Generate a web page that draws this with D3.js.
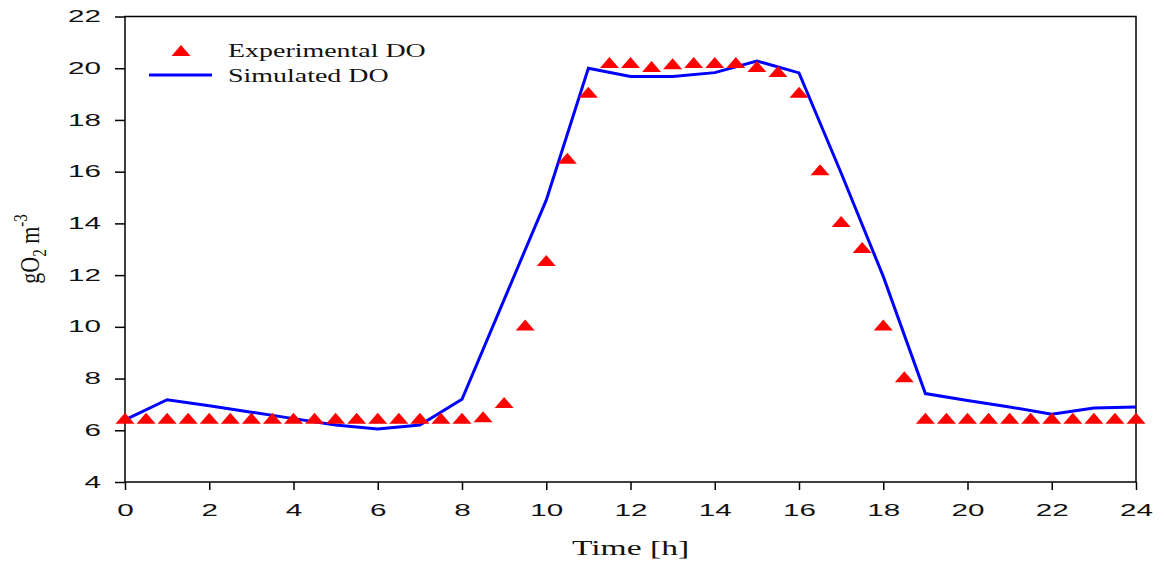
<!DOCTYPE html>
<html>
<head>
<meta charset="utf-8">
<script src="https://cdn.jsdelivr.net/npm/d3@7"></script>
<style>
    body { margin: 0; background: #fff; }
    .tick text { font-family: "Liberation Sans", Arial, sans-serif; font-size: 16px; fill: #111; }
    .serif { font-family: "Liberation Serif", "Times New Roman", serif; fill: #111; }
</style>
</head>
<body>
<svg id="chart"></svg>
<script>
// experimental DO, every half hour from 0 to 24 h
const expTimes = d3.range(0, 24.01, 0.5);
const expValues = [6.45, 6.45, 6.45, 6.45, 6.45, 6.45, 6.45, 6.45, 6.45, 6.45,
    6.45, 6.45, 6.45, 6.45, 6.45, 6.45, 6.45, 6.5, 7.05, 10.05,
    12.55, 16.5, 19.05, 20.2, 20.2, 20.05, 20.15, 20.2, 20.2, 20.2,
    20.05, 19.85, 19.05, 16.05, 14.05, 13.05, 10.05, 8.05, 6.45, 6.45,
    6.45, 6.45, 6.45, 6.45, 6.45, 6.45, 6.45, 6.45, 6.45];

// simulated DO, hourly
const simTimes = d3.range(0, 25, 1);
const simValues = [6.4, 7.18, 6.95, 6.7, 6.45, 6.2, 6.05, 6.2, 7.2, 11.05,
    14.9, 20.0, 19.68, 19.68, 19.83, 20.28, 19.82, 15.95, 11.95, 7.42,
    7.15, 6.9, 6.62, 6.86, 6.9];

const xTicks = d3.range(0, 25, 2);
const yTicks = d3.range(4, 23, 2);

const width = 1164, height = 568;
const margin = {top: 16.5, right: 28, bottom: 86, left: 125};

// the whole figure looks stretched sideways, text included
const tickStretch = 1.85;

const svg = d3.select("#chart").attr("width", width).attr("height", height);

const x = d3.scaleLinear().domain([0, 24]).range([margin.left, width - margin.right]);
const y = d3.scaleLinear().domain([4, 22]).range([height - margin.bottom, margin.top]);

// frame
svg.append("rect")
    .attr("x", x(0)).attr("y", y(22))
    .attr("width", x(24) - x(0)).attr("height", y(4) - y(22))
    .attr("fill", "none").attr("stroke", "#000").attr("stroke-width", 1.5);

const xAxis = svg.append("g")
    .attr("transform", `translate(0, ${y(4)})`)
    .call(d3.axisBottom(x).tickValues(xTicks).tickSize(8).tickFormat(d3.format("d")));
xAxis.select(".domain").remove();
xAxis.selectAll(".tick line").attr("stroke-width", 1.5);
xAxis.selectAll(".tick text")
    .attr("y", 0).attr("dy", 0)
    .attr("transform", `translate(0, 34) scale(${tickStretch}, 1)`);

const yAxis = svg.append("g")
    .attr("transform", `translate(${x(0)}, 0)`)
    .call(d3.axisLeft(y).tickValues(yTicks).tickSize(10).tickFormat(d3.format("d")));
yAxis.select(".domain").remove();
yAxis.selectAll(".tick line").attr("stroke-width", 1.5);
yAxis.selectAll(".tick text")
    .attr("x", 0)
    .attr("transform", `translate(-24, 0) scale(${tickStretch}, 1)`);

// axis titles
svg.append("text")
    .attr("class", "serif")
    .attr("transform", `translate(${(x(0) + x(24)) / 2}, 555) scale(1.6, 1)`)
    .attr("text-anchor", "middle")
    .style("font-size", "21px")
    .text("Time [h]");

const yTitle = svg.append("text")
    .attr("class", "serif")
    .attr("transform", "translate(39, 249) scale(1.2, 1) rotate(-90)")
    .attr("text-anchor", "middle")
    .style("font-size", "22px");
yTitle.append("tspan").text("gO");
yTitle.append("tspan").attr("dy", 6).style("font-size", "15px").text("2");
yTitle.append("tspan").attr("dy", -6).text(" m");
yTitle.append("tspan").attr("dy", -10).style("font-size", "15px").text("-3");

// simulated line
const line = d3.line().x((d, i) => x(simTimes[i])).y(d => y(d));
svg.append("path")
    .datum(simValues)
    .attr("d", line)
    .attr("fill", "none")
    .attr("stroke", "#0000ff")
    .attr("stroke-width", 3)
    .attr("stroke-linejoin", "miter");

// triangle marker, wider than tall
const tri = "M0,-6L9.5,5L-9.5,5Z";

svg.append("g").selectAll("path")
    .data(expValues)
    .join("path")
    .attr("d", tri)
    .attr("transform", (d, i) => `translate(${x(expTimes[i])}, ${y(d)})`)
    .attr("fill", "#ff0000");

// legend
const legend = svg.append("g");
legend.append("path")
    .attr("d", tri)
    .attr("transform", "translate(181, 51)")
    .attr("fill", "#ff0000");
legend.append("line")
    .attr("x1", 149).attr("x2", 212)
    .attr("y1", 75).attr("y2", 75)
    .attr("stroke", "#0000ff").attr("stroke-width", 3);
legend.append("text")
    .attr("class", "serif")
    .attr("transform", "translate(228, 57) scale(1.51, 1)")
    .style("font-size", "18.5px")
    .text("Experimental DO");
legend.append("text")
    .attr("class", "serif")
    .attr("transform", "translate(228, 82) scale(1.51, 1)")
    .style("font-size", "18.5px")
    .text("Simulated DO");
</script>
</body>
</html>
